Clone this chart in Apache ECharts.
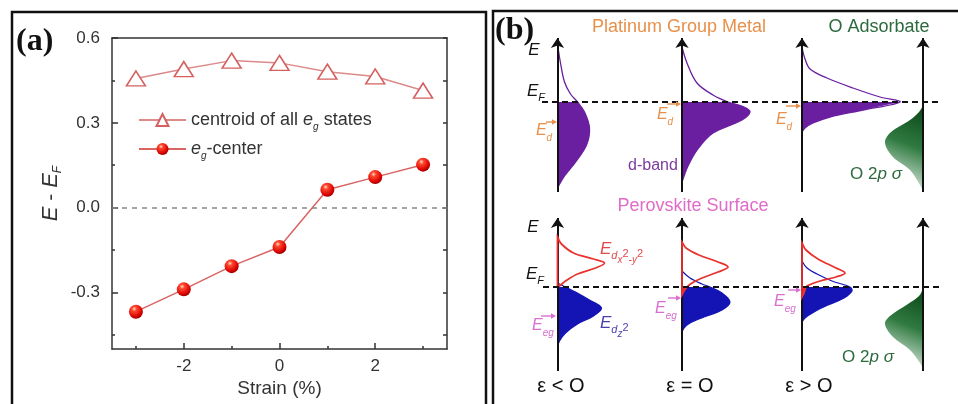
<!DOCTYPE html>
<html><head><meta charset="utf-8">
<script src="https://cdn.jsdelivr.net/npm/echarts@6/dist/echarts.min.js"></script>
<style>html,body{margin:0;padding:0;background:#fff}#c{width:958px;height:404px}</style>
</head><body><div id="c"></div>
<script>
// ---------- Panel (a) data ----------
const strain = [-3, -2, -1, 0, 1, 2, 3];
const centroidAll = [0.457, 0.490, 0.520, 0.512, 0.481, 0.464, 0.414];
const egCenter = [-0.368, -0.289, -0.207, -0.139, 0.063, 0.108, 0.152];
const xMajorTicks = [-2, 0, 2];
const xMinorTicks = [-3, -1, 1, 3];
const yMajorTicks = [-0.3, 0, 0.3, 0.6];
const yMinorTicks = [-0.45, -0.15, 0.15, 0.45];

// ---------- Panel (b) schematic curves: [density of states, E - E_F] ----------
const pgmBand1 = [[0,5.8],[0.3,3.9],[0.7,2.0],[1.3,0.8],[2.0,0],[2.7,-1.0],[3.2,-2.6],[2.9,-4.3],[1.8,-6.0],[0.7,-7.4],[0,-8.6]];
const pgmBand2 = [[0,5.5],[0.5,3.9],[1.5,1.9],[3.1,0.7],[4.6,0],[6.2,-0.5],[6.8,-1.0],[6.0,-1.8],[3.1,-3.1],[1.5,-4.8],[0.6,-6.4],[0,-8.0]];
const pgmBand3 = [[0,5.5],[0.3,4.3],[0.8,3.3],[2.5,2.4],[5.1,1.4],[7.8,0.5],[9.8,0],[6.1,-0.8],[2.8,-1.5],[1.1,-2.1],[0.3,-2.6],[0,-3.0]];
const oxygenTop = [[0,-0.4],[-0.4,-1.0],[-1.3,-1.8],[-3.3,-3.1],[-3.8,-4.1],[-3.0,-5.5],[-1.3,-6.8],[-0.3,-8.3],[0,-8.9]];

const pvRed1 = [[0,5.0],[0.4,4.3],[1.6,3.4],[3.6,2.8],[4.7,2.4],[3.8,1.9],[2.0,1.3],[0.8,0.6],[0.2,0.1],[0,0]];
const pvBlue1 = [[0,0.4],[0.8,0],[1.8,-0.5],[3.2,-1.3],[4.4,-2.1],[3.6,-2.9],[2.0,-3.7],[0.8,-4.6],[0.2,-5.4],[0,-6.0]];
const pvRed2 = [[0,4.5],[0.4,3.9],[1.7,3.2],[3.6,2.5],[4.6,2.0],[3.6,1.5],[2.0,0.9],[1.0,0.4],[0.5,0],[0.2,-0.4],[0,-0.8]];
const pvBlue2 = [[0,1.6],[0.8,0.9],[2.0,0.3],[2.8,0],[4.0,-0.6],[4.8,-1.5],[4.0,-2.3],[2.2,-3.0],[0.8,-3.6],[0.2,-4.1],[0,-4.5]];
const pvRed3 = [[0,4.4],[0.4,3.7],[1.6,2.8],[3.4,1.9],[4.3,1.4],[3.4,1.0],[1.8,0.6],[0.7,0.2],[0.4,0],[0.2,-0.6],[0,-1.0]];
const pvBlue3 = [[0,2.6],[0.5,1.9],[1.5,1.3],[3.0,0.6],[4.8,0],[5.0,-0.4],[4.2,-1.1],[2.6,-1.8],[1.2,-2.5],[0.3,-3.1],[0,-3.5]];
const oxygenBottom = [[0,-0.2],[-0.4,-0.9],[-1.5,-1.7],[-3.3,-2.9],[-3.8,-3.7],[-3.0,-5.0],[-1.3,-6.3],[-0.3,-7.6],[0,-8.2]];

// ---------- layout constants (not data) ----------
const panelX = [1.75, 14.2, 26.2, 38.3];
const FONT = 'Liberation Sans, Arial, sans-serif';

const PURPLE = '#6a1fa0', BLUE = '#1414b4', RED = '#e8322e', ORANGE = '#e8904a', PINK = '#d86fd0', GREEN = '#2d6a3e';

function dup(p) { return [p, p]; }

function curveSeries(pts, offset, gi, o) {
  return {
    type: 'custom', xAxisIndex: 3 + gi, yAxisIndex: 3 + gi, silent: true, z: o.z || 3,
    data: pts.map(p => [p[0] + offset, p[1]]),
    renderItem: function (params, api) {
      if (params.dataIndex !== 0) return null;
      const P = pts.map(p => api.coord([p[0] + offset, p[1]]));
      const axisAt = e => api.coord([offset, e]);
      const children = [];
      if (o.fill) {
        let poly;
        if (o.fillAll) {
          poly = [].concat(dup(P[0]), P.slice(1, -1), dup(P[P.length - 1]));
        } else {
          const k = pts.findIndex(p => p[1] <= 0);
          poly = [].concat(dup(axisAt(0)), dup(P[k]), P.slice(k + 1, -1), dup(P[P.length - 1]));
        }
        children.push({ type: 'polygon', shape: { points: poly, smooth: 0.35 }, style: { fill: o.fill, stroke: 'none' } });
      }
      if (o.stroke) {
        if (o.closed) {
          const poly = [].concat(dup(P[0]), P.slice(1, -1), dup(P[P.length - 1]));
          children.push({ type: 'polygon', shape: { points: poly, smooth: 0.35 }, style: { fill: 'none', stroke: o.stroke, lineWidth: o.lw || 1.5 } });
        } else {
          children.push({ type: 'polyline', shape: { points: P, smooth: 0.35 }, style: { fill: 'none', stroke: o.stroke, lineWidth: o.lw || 1.5 } });
        }
      }
      return { type: 'group', children };
    }
  };
}

const greenGrad = () => new echarts.graphic.LinearGradient(1, 0, 0.1, 1, [
  { offset: 0, color: '#0a4618' }, { offset: 0.45, color: '#2f7a40' }, { offset: 1, color: '#ffffff' }]);

const ball = new echarts.graphic.RadialGradient(0.38, 0.3, 0.75, [
  { offset: 0, color: '#ffe0d0' }, { offset: 0.22, color: '#ff4a30' }, { offset: 0.75, color: '#d80000' }, { offset: 1, color: '#8a0000' }]);

const subRich = {
  i: { fontStyle: 'italic', fontSize: 18, fontFamily: FONT, color: '#333' },
  s: { fontStyle: 'italic', fontSize: 10, lineHeight: 10, padding: [14, 0, 0, 0], fontFamily: FONT, color: '#333' }
};

function richText(x, y, text, color, size, align) {
  const r = {
    e: { fontStyle: 'italic', fontSize: size, fontFamily: FONT, fill: color },
    n: { fontSize: size, fontFamily: FONT, fill: color },
    s: { fontStyle: 'italic', fontSize: Math.round(size * 0.65), lineHeight: 10, padding: [14, 0, 0, 0], fontFamily: FONT, fill: color },
    ss: { fontStyle: 'italic', fontSize: Math.round(size * 0.6), lineHeight: 9, padding: [22, 0, 0, 0], fontFamily: FONT, fill: color },
    sp: { fontSize: Math.round(size * 0.65), lineHeight: 9, padding: [10, 0, 0, 0], fontFamily: FONT, fill: color }
  };
  return { type: 'text', x, y, silent: true, z: 100,
    style: { text, rich: r, fill: color, fontSize: size, fontFamily: FONT, align: align || 'center', verticalAlign: 'middle' } };
}
function plainText(x, y, text, color, size, extra) {
  return { type: 'text', x, y, silent: true, z: 100,
    style: Object.assign({ text, fill: color, fontSize: size, fontFamily: FONT, align: 'center', verticalAlign: 'middle' }, extra || {}) };
}
function arrow(x1, y, x2, color) {
  return [
    { type: 'line', silent: true, z: 100, shape: { x1, y1: y, x2: x2 - 4, y2: y }, style: { stroke: color, lineWidth: 1.4 } },
    { type: 'polygon', silent: true, z: 100, shape: { points: [[x2, y], [x2 - 5, y - 2.8], [x2 - 5, y + 2.8]] }, style: { fill: color } }
  ];
}

const axisLineStyle = { color: '#333', width: 1.5 };
const hiddenAxes = (ymin, ymax) => ({ x: { type: 'value', show: false, min: 0, max: 40 }, y: { type: 'value', show: false, min: ymin, max: ymax } });
const hbTop = hiddenAxes(-9, 7), hbBot = hiddenAxes(-8.4, 7);

const option = {
  animation: false,
  textStyle: { fontFamily: FONT },
  grid: [
    { left: 112, top: 38, width: 335, height: 311, outerBoundsMode: 'none' },
    { left: 540, top: 32, width: 400, height: 160, outerBoundsMode: 'none' },
    { left: 540, top: 217, width: 400, height: 154, outerBoundsMode: 'none' }
  ],
  xAxis: [
    { type: 'value', gridIndex: 0, position: 'bottom', min: -3.5, max: 3.5,
      axisLine: { onZero: false, lineStyle: axisLineStyle },
      axisTick: { inside: true, length: 6, customValues: xMajorTicks, lineStyle: axisLineStyle },
      axisLabel: { customValues: xMajorTicks, color: '#333', fontSize: 17, margin: 9 },
      splitLine: { show: false },
      name: 'Strain (%)', nameLocation: 'middle', nameGap: 30, nameMoveOverlap: false,
      nameTextStyle: { fontSize: 19, color: '#333' } },
    { type: 'value', gridIndex: 0, position: 'bottom', min: -3.5, max: 3.5,
      axisLine: { show: false, onZero: false },
      axisTick: { inside: true, length: 3, customValues: xMinorTicks, lineStyle: axisLineStyle },
      axisLabel: { show: false }, splitLine: { show: false } },
    { type: 'value', gridIndex: 0, position: 'top', min: -3.5, max: 3.5,
      axisLine: { onZero: false, lineStyle: axisLineStyle },
      axisTick: { show: false }, axisLabel: { show: false }, splitLine: { show: false } },
    Object.assign({ gridIndex: 1 }, hbTop.x),
    Object.assign({ gridIndex: 2 }, hbBot.x)
  ],
  yAxis: [
    { type: 'value', gridIndex: 0, position: 'left', min: -0.5, max: 0.6,
      axisLine: { show: true, onZero: false, lineStyle: axisLineStyle },
      axisTick: { show: true, inside: true, length: 6, customValues: yMajorTicks, lineStyle: axisLineStyle },
      axisLabel: { customValues: yMajorTicks, color: '#333', fontSize: 17, margin: 12, formatter: v => v.toFixed(1) },
      splitLine: { show: false },
      name: '{i|E} - {i|E}{s|F}', nameLocation: 'middle', nameGap: 50, nameRotate: 90, nameMoveOverlap: false,
      nameTextStyle: { fontSize: 21, color: '#333', rich: {
        i: { fontStyle: 'italic', fontSize: 22, color: '#333' },
        s: { fontStyle: 'italic', fontSize: 12, lineHeight: 12, padding: [14, 0, 0, 0], color: '#333' } } } },
    { type: 'value', gridIndex: 0, position: 'left', min: -0.5, max: 0.6,
      axisLine: { show: false, onZero: false },
      axisTick: { show: true, inside: true, length: 3, customValues: yMinorTicks, lineStyle: axisLineStyle },
      axisLabel: { show: false }, splitLine: { show: false } },
    { type: 'value', gridIndex: 0, position: 'right', min: -0.5, max: 0.6,
      axisLine: { show: true, onZero: false, lineStyle: axisLineStyle },
      axisTick: { show: true, inside: true, length: 4, customValues: yMajorTicks.concat(yMinorTicks), lineStyle: axisLineStyle },
      axisLabel: { show: false }, splitLine: { show: false } },
    Object.assign({ gridIndex: 1 }, hbTop.y),
    Object.assign({ gridIndex: 2 }, hbBot.y)
  ],
  legend: {
    data: ['centroid', 'egc'], left: 133, top: 103, orient: 'vertical',
    itemWidth: 47, itemHeight: 15, itemGap: 5,
    formatter: n => n === 'centroid' ? 'centroid of all {i|e}{s|g} states' : '{i|e}{s|g}-center',
    textStyle: { fontSize: 18, color: '#333', rich: subRich }
  },
  series: [
    { name: 'centroid', type: 'line', xAxisIndex: 0, yAxisIndex: 0,
      data: strain.map((s, i) => [s, centroidAll[i]]),
      symbol: 'triangle', symbolSize: [19, 15],
      lineStyle: { color: '#dc8a8a', width: 1.5 },
      itemStyle: { color: '#ffffff', borderColor: '#d46060', borderWidth: 1.5 },
      markLine: { silent: true, symbol: 'none', label: { show: false },
        lineStyle: { color: '#888', type: [5, 5], width: 1.5 }, data: [{ yAxis: 0 }] } },
    { name: 'egc', type: 'line', xAxisIndex: 0, yAxisIndex: 0,
      data: strain.map((s, i) => [s, egCenter[i]]),
      symbol: 'circle', symbolSize: 14,
      lineStyle: { color: '#d86464', width: 1.5 },
      itemStyle: { color: ball, borderWidth: 0 } },

    // ---- panel (b) top row: platinum group metal d-bands ----
    curveSeries(pgmBand1, panelX[0], 0, { fill: PURPLE, stroke: PURPLE, lw: 1.3 }),
    curveSeries(pgmBand2, panelX[1], 0, { fill: PURPLE, stroke: PURPLE, lw: 1.3 }),
    curveSeries(pgmBand3, panelX[2], 0, { fill: PURPLE, stroke: PURPLE, lw: 1.3 }),
    curveSeries(oxygenTop, panelX[3], 0, { fill: greenGrad(), fillAll: true }),
    { type: 'lines', coordinateSystem: 'cartesian2d', xAxisIndex: 3, yAxisIndex: 3, silent: true, z: 6,
      symbol: ['none', 'arrow'], symbolSize: 10,
      lineStyle: { color: '#111', width: 2, opacity: 1 },
      data: panelX.map(x => ({ coords: [[x, -9], [x, 6.4]] })) },
    { type: 'lines', coordinateSystem: 'cartesian2d', xAxisIndex: 3, yAxisIndex: 3, silent: true, z: 7,
      symbol: 'none', lineStyle: { color: '#111', width: 2, type: [6, 4], opacity: 1 },
      data: [{ coords: [[0.2, 0], [40.3, 0]] }] },

    // ---- panel (b) bottom row: perovskite surface e_g states ----
    curveSeries(pvBlue1, panelX[0], 1, { fill: BLUE, stroke: BLUE, lw: 1.2 }),
    curveSeries(pvBlue2, panelX[1], 1, { fill: BLUE, stroke: BLUE, lw: 1.2 }),
    curveSeries(pvBlue3, panelX[2], 1, { fill: BLUE, stroke: BLUE, lw: 1.2 }),
    curveSeries(pvRed1, panelX[0], 1, { fill: RED, z: 4 }),
    curveSeries(pvRed2, panelX[1], 1, { fill: RED, z: 4 }),
    curveSeries(pvRed3, panelX[2], 1, { fill: RED, z: 4 }),
    curveSeries(oxygenBottom, panelX[3], 1, { fill: greenGrad(), fillAll: true }),
    { type: 'lines', coordinateSystem: 'cartesian2d', xAxisIndex: 4, yAxisIndex: 4, silent: true, z: 6,
      symbol: ['none', 'arrow'], symbolSize: 10,
      lineStyle: { color: '#111', width: 2, opacity: 1 },
      data: panelX.map(x => ({ coords: [[x, -8.4], [x, 6.9]] })) },
    curveSeries(pvRed1, panelX[0], 1, { stroke: RED, closed: true, lw: 1.8, z: 8 }),
    curveSeries(pvRed2, panelX[1], 1, { stroke: RED, closed: true, lw: 1.8, z: 8 }),
    curveSeries(pvRed3, panelX[2], 1, { stroke: RED, closed: true, lw: 1.8, z: 8 }),
    { type: 'lines', coordinateSystem: 'cartesian2d', xAxisIndex: 4, yAxisIndex: 4, silent: true, z: 9,
      symbol: 'none', lineStyle: { color: '#111', width: 2, type: [6, 4], opacity: 1 },
      data: [{ coords: [[0.3, 0], [40.3, 0]] }] }
  ],
  graphic: { elements: [
    { type: 'rect', silent: true, z: 100, shape: { x: 12, y: 12, width: 474, height: 410 }, style: { fill: 'none', stroke: '#111', lineWidth: 2.5 } },
    { type: 'rect', silent: true, z: 100, shape: { x: 493, y: 11, width: 480, height: 410 }, style: { fill: 'none', stroke: '#111', lineWidth: 2.5 } },
    plainText(16, 42, '(a)', '#111', 32, { align: 'left', fontWeight: 'bold', fontFamily: 'Liberation Serif, Times New Roman, serif' }),
    plainText(495, 31, '(b)', '#111', 32, { align: 'left', fontWeight: 'bold', fontFamily: 'Liberation Serif, Times New Roman, serif' }),
    plainText(679, 27, 'Platinum Group Metal', ORANGE, 18),
    plainText(879, 27, 'O Adsorbate', GREEN, 18),
    richText(534, 50, '{e|E}', '#111', 17),
    richText(536, 91, '{e|E}{s|F}', '#111', 17),
    richText(544, 131, '{e|E}{s|d}', ORANGE, 16),
    ...arrow(546, 122, 557, ORANGE),
    richText(665, 115, '{e|E}{s|d}', ORANGE, 16),
    ...arrow(667, 104, 681, ORANGE),
    richText(784, 120, '{e|E}{s|d}', ORANGE, 16),
    ...arrow(786, 106, 801, ORANGE),
    plainText(653, 166, 'd-band', '#7b3ca0', 16),
    richText(876, 174, '{n|O 2}{e|p σ}', GREEN, 17),

    plainText(693, 206, 'Perovskite Surface', '#e06cc8', 18),
    richText(533, 227, '{e|E}', '#111', 17),
    richText(535, 274, '{e|E}{s|F}', '#111', 17),
    richText(600, 249, '{e|E}{s|d}{ss|x}{sp|2}{ss|-y}{sp|2}', '#e24a4a', 17, 'left'),
    richText(600, 323, '{e|E}{s|d}{ss|z}{sp|2}', '#4b3fb0', 17, 'left'),
    richText(543, 326, '{e|E}{s|eg}', PINK, 16),
    ...arrow(541, 316, 556, PINK),
    richText(666, 309, '{e|E}{s|eg}', PINK, 16),
    ...arrow(668, 298, 681, PINK),
    richText(785, 302, '{e|E}{s|eg}', PINK, 16),
    ...arrow(788, 290, 801, PINK),
    richText(868, 357, '{n|O 2}{e|p σ}', GREEN, 17),
    plainText(561, 386, 'ε < O', '#111', 20),
    plainText(690, 386, 'ε = O', '#111', 20),
    plainText(809, 386, 'ε > O', '#111', 20)
  ] }
};
const chart = echarts.init(document.getElementById('c'), null, { renderer: 'canvas', width: 958, height: 404 });
chart.setOption(option);
</script></body></html>
